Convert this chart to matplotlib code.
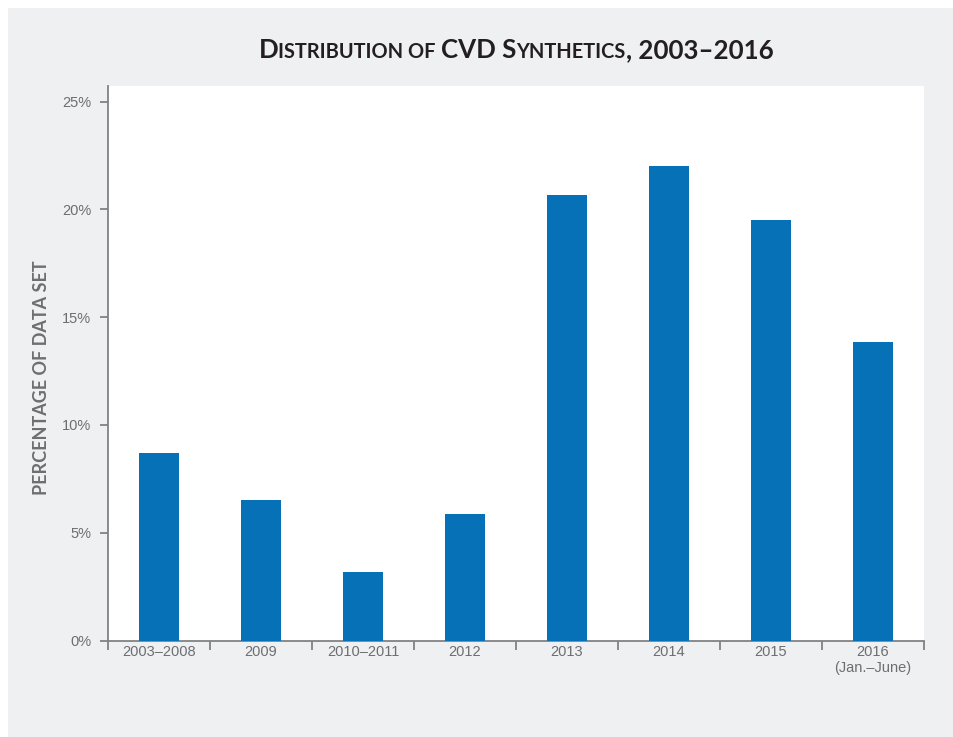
import matplotlib
matplotlib.use("Agg")
import matplotlib.pyplot as plt
from matplotlib.patches import Rectangle
import numpy as np

categories = ["2003–2008", "2009", "2010–2011", "2012", "2013", "2014", "2015", "2016\n(Jan.–June)"]
values = [8.68, 6.52, 3.18, 5.85, 20.68, 22.01, 19.50, 13.83]
yticks = [0, 5, 10, 15, 20, 25]
ytick_labels = ["0%", "5%", "10%", "15%", "20%", "25%"]
title_pieces = [("D", True), ("ISTRIBUTION OF ", False), ("CVD S", True), ("YNTHETICS", False), (", 2003–2016", True)]
ylabel_text = "PERCENTAGE OF DATA SET"

W, H = 954, 737
BG = "#eff0f2"
BAR = "#0771b8"
GRAY = "#6d6e71"
SPINE = "#808285"
TITLE_FONT = "Lato"

fig = plt.figure(figsize=(W / 100, H / 100), dpi=100)
fig.patch.set_facecolor("white")
fig.add_artist(Rectangle((8 / W, 0), 1 - 8 / W, 1 - 8 / H, transform=fig.transFigure,
                         facecolor=BG, edgecolor="none", zorder=-10))

ax = fig.add_axes([108 / W, 1 - 640.5 / H, (924 - 108) / W, (640.5 - 86) / H])
ax.set_facecolor("white")
x = np.arange(len(categories))
ax.bar(x, values, width=0.4, color=BAR, zorder=3)

ax.set_xlim(-0.5, len(categories) - 0.5)
ax.set_ylim(0, 25.72)
ax.set_yticks(yticks)
ax.set_yticklabels(ytick_labels)
ax.set_xticks(np.arange(len(categories) + 1) - 0.5)
ax.set_xticklabels([])
ax.set_xticks(x, minor=True)
ax.set_xticklabels(categories, minor=True)

for s in ["top", "right"]:
    ax.spines[s].set_visible(False)
for s in ["left", "bottom"]:
    ax.spines[s].set_color(SPINE)
    ax.spines[s].set_linewidth(1.3)

ax.tick_params(axis="y", which="major", length=6, width=1.3, color=SPINE, pad=6,
               labelsize=10.5, labelcolor=GRAY)
ax.tick_params(axis="x", which="major", length=6.5, width=1.3, color=SPINE, direction="out")
ax.tick_params(axis="x", which="minor", length=0, pad=3.5, labelsize=10.5, labelcolor=GRAY)
for lab in ax.get_yticklabels() + ax.get_xticklabels(minor=True):
    lab.set_family(["Liberation Sans", "DejaVu Sans"])
for lab in ax.get_xticklabels(minor=True):
    lab.set_linespacing(1.15)

# y label
fig.text(42 / W, 1 - 378 / H, ylabel_text, rotation=90, ha="center", va="center",
         fontsize=13, fontweight="bold", color=GRAY, family=[TITLE_FONT, "DejaVu Sans"])

# small-caps title
renderer = fig.canvas.get_renderer()
big, small = 18.6, 14.4
texts = []
for s, isbig in title_pieces:
    t = fig.text(0, 1 - 58 / H, s, fontsize=big if isbig else small, fontweight="bold",
                 color="#231f20", ha="left", va="baseline", family=[TITLE_FONT, "DejaVu Sans"])
    texts.append(t)
widths = [t.get_window_extent(renderer).width for t in texts]
total = sum(widths)
xpos = 516 - total / 2
for t, w in zip(texts, widths):
    t.set_x(xpos / W)
    xpos += w

fig.savefig("out.png", dpi=100, facecolor=fig.get_facecolor())
